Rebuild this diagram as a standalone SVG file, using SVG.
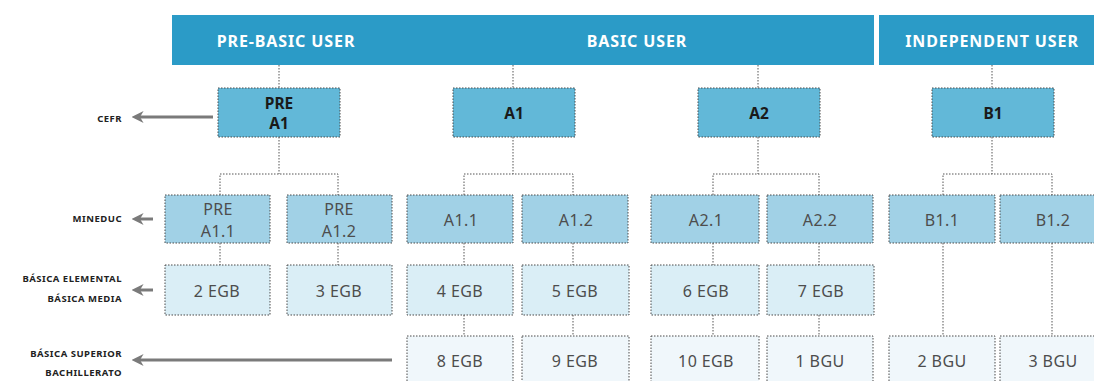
<svg xmlns="http://www.w3.org/2000/svg" width="1094" height="381" viewBox="0 0 1094 381">
<defs>
<style>
.band{fill:#2b9bc7}
.ht{font-family:"Noto Sans","Open Sans",sans-serif;font-weight:bold;font-size:16px;letter-spacing:0.9px;fill:#fff;text-anchor:middle;dominant-baseline:central}
.l1{fill:#62b8d8;stroke:#4a4a4a;stroke-width:1;stroke-dasharray:1.5 1.5}
.l2{fill:#a1d1e6;stroke:#4a4a4a;stroke-width:1;stroke-dasharray:1.5 1.5}
.l3{fill:#daeef6;stroke:#4a4a4a;stroke-width:1;stroke-dasharray:1.5 1.5}
.l4{fill:#f0f7fb;stroke:#4a4a4a;stroke-width:1;stroke-dasharray:1.5 1.5}
.t1{font-family:"Noto Sans","Open Sans",sans-serif;font-weight:bold;font-size:15.5px;fill:#1a1a1a;text-anchor:middle;dominant-baseline:central}
.t2{font-family:"Noto Sans","Open Sans",sans-serif;font-size:16px;letter-spacing:0.4px;fill:#4d4d4d;text-anchor:middle;dominant-baseline:central}
.lab{font-family:"Noto Sans","Open Sans",sans-serif;font-weight:bold;font-size:9.5px;letter-spacing:0.5px;fill:#222;text-anchor:end;dominant-baseline:central}
.conn{fill:none;stroke:#555;stroke-width:1;stroke-dasharray:1.5 1.5}
.arr{fill:none;stroke:#7a7a7a;stroke-width:3;marker-end:url(#ah)}
</style>
<marker id="ah" viewBox="0 0 10 10" refX="3" refY="5" markerWidth="4" markerHeight="4.5" orient="auto" markerUnits="strokeWidth">
<path d="M0,0 L10,5 L0,10 L3,5 Z" fill="#7a7a7a"/>
</marker>
</defs>

<g id="headers">
<rect class="band" x="172" y="15" width="702" height="50"/>
<rect class="band" x="879" y="15" width="215" height="50"/>
<text class="ht" x="286" y="41">PRE-BASIC USER</text>
<text class="ht" x="637" y="41">BASIC USER</text>
<text class="ht" x="992" y="41">INDEPENDENT USER</text>
</g>

<g id="connectors">
<path class="conn" d="M279,65 V88 M513,65 V88 M758,65 V88 M992,65 V88"/>
<path class="conn" d="M279,137 V174 M220,195 V174 H338 V195"/>
<path class="conn" d="M513,137 V174 M464,195 V174 H573 V195"/>
<path class="conn" d="M758,137 V174 M713,195 V174 H819 V195"/>
<path class="conn" d="M992,137 V174 M943,195 V174 H1052 V195"/>
<path class="conn" d="M220,243 V265 M338,243 V265 M464,243 V265 M573,243 V265 M713,243 V265 M819,243 V265"/>
<path class="conn" d="M464,315 V336 M573,315 V336 M713,315 V336 M819,315 V336"/>
<path class="conn" d="M943,243 V336 M1052,243 V336"/>
</g>

<g id="side-labels">
<text class="lab" x="122" y="118">CEFR</text>
<path class="arr" d="M213,117 H140"/>
<text class="lab" x="122" y="218">MINEDUC</text>
<path class="arr" d="M153,219 H140"/>
<text class="lab" x="122" y="278">BÁSICA ELEMENTAL</text>
<text class="lab" x="122" y="298">BÁSICA MEDIA</text>
<path class="arr" d="M153,290 H140"/>
<text class="lab" x="122" y="353">BÁSICA SUPERIOR</text>
<text class="lab" x="122" y="372">BACHILLERATO</text>
<path class="arr" d="M392,360 H140"/>
</g>

<g id="n-prea1"><rect class="l1" x="218" y="88" width="122" height="49"/><text class="t1" x="279" y="103">PRE</text><text class="t1" x="279" y="123">A1</text></g>
<g id="n-a1"><rect class="l1" x="453" y="88" width="122" height="49"/><text class="t1" x="514" y="113">A1</text></g>
<g id="n-a2"><rect class="l1" x="698" y="88" width="122" height="49"/><text class="t1" x="759" y="113">A2</text></g>
<g id="n-b1"><rect class="l1" x="932" y="88" width="122" height="49"/><text class="t1" x="993" y="113">B1</text></g>

<g id="n-prea11"><rect class="l2" x="165" y="195" width="105" height="48"/><text class="t2" x="218" y="209">PRE</text><text class="t2" x="218" y="231">A1.1</text></g>
<g id="n-prea12"><rect class="l2" x="287" y="195" width="105" height="48"/><text class="t2" x="339" y="209">PRE</text><text class="t2" x="339" y="231">A1.2</text></g>
<g id="n-a11"><rect class="l2" x="407" y="195" width="106" height="48"/><text class="t2" x="461" y="220">A1.1</text></g>
<g id="n-a12"><rect class="l2" x="522" y="195" width="106" height="48"/><text class="t2" x="576" y="220">A1.2</text></g>
<g id="n-a21"><rect class="l2" x="651" y="195" width="108" height="48"/><text class="t2" x="706" y="220">A2.1</text></g>
<g id="n-a22"><rect class="l2" x="767" y="195" width="106" height="48"/><text class="t2" x="820" y="220">A2.2</text></g>
<g id="n-b11"><rect class="l2" x="889" y="195" width="106" height="48"/><text class="t2" x="942" y="220">B1.1</text></g>
<g id="n-b12"><rect class="l2" x="1000" y="195" width="106" height="48"/><text class="t2" x="1053" y="220">B1.2</text></g>

<g id="n-2egb"><rect class="l3" x="165" y="265" width="105" height="50"/><text class="t2" x="217" y="291">2 EGB</text></g>
<g id="n-3egb"><rect class="l3" x="287" y="265" width="105" height="50"/><text class="t2" x="339" y="291">3 EGB</text></g>
<g id="n-4egb"><rect class="l3" x="407" y="265" width="106" height="50"/><text class="t2" x="460" y="291">4 EGB</text></g>
<g id="n-5egb"><rect class="l3" x="522" y="265" width="107" height="50"/><text class="t2" x="575" y="291">5 EGB</text></g>
<g id="n-6egb"><rect class="l3" x="651" y="265" width="108" height="50"/><text class="t2" x="706" y="291">6 EGB</text></g>
<g id="n-7egb"><rect class="l3" x="767" y="265" width="107" height="50"/><text class="t2" x="821" y="291">7 EGB</text></g>

<g id="n-8egb"><rect class="l4" x="407" y="336" width="106" height="50"/><text class="t2" x="460" y="361">8 EGB</text></g>
<g id="n-9egb"><rect class="l4" x="522" y="336" width="107" height="50"/><text class="t2" x="575" y="361">9 EGB</text></g>
<g id="n-10egb"><rect class="l4" x="651" y="336" width="108" height="50"/><text class="t2" x="706" y="361">10 EGB</text></g>
<g id="n-1bgu"><rect class="l4" x="767" y="336" width="106" height="50"/><text class="t2" x="820" y="361">1 BGU</text></g>
<g id="n-2bgu"><rect class="l4" x="889" y="336" width="106" height="50"/><text class="t2" x="942" y="361">2 BGU</text></g>
<g id="n-3bgu"><rect class="l4" x="1000" y="336" width="106" height="50"/><text class="t2" x="1053" y="361">3 BGU</text></g>
</svg>
